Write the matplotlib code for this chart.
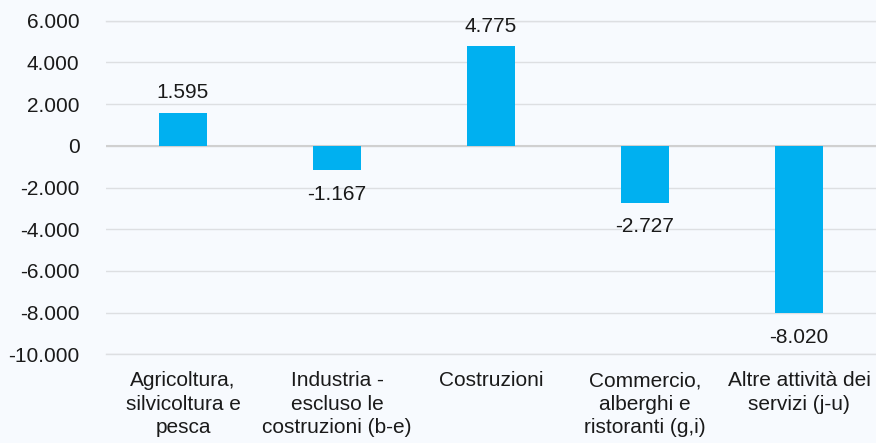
import matplotlib.pyplot as plt
import numpy as np

plt.rcParams['font.family'] = ['Liberation Sans', 'DejaVu Sans']

categories = ['Agricoltura,\nsilvicoltura e\npesca',
              'Industria -\nescluso le\ncostruzioni (b-e)',
              'Costruzioni',
              'Commercio,\nalberghi e\nristoranti (g,i)',
              'Altre attività dei\nservizi (j-u)']
values = [1595, -1167, 4775, -2727, -8020]
y_ticks = [-10000, -8000, -6000, -4000, -2000, 0, 2000, 4000, 6000]


def it_fmt(v):
    # Italian thousands separator
    return f"{v:,.0f}".replace(',', '.')


bg = '#F7FAFE'
fs = 15
fig = plt.figure(figsize=(8.76, 4.43), dpi=100, facecolor=bg)
ax = fig.add_axes([0.121, 0.2, 0.879, 0.7533], facecolor=bg)

x = np.arange(len(categories))
ax.bar(x, values, width=0.31, color='#00B0F0', zorder=3)

for xi, v in zip(x, values):
    off = 7.5 if v >= 0 else -10.5
    ax.annotate(it_fmt(v), (xi, v), xytext=(0, off), textcoords='offset points',
                ha='center', va='bottom' if v >= 0 else 'top',
                fontsize=fs, color='#1a1a1a')

ax.set_xlim(-0.5, len(categories) - 0.5)
ax.set_ylim(-10000, 6000)
ax.set_yticks(y_ticks)
ax.set_yticklabels([it_fmt(t) for t in y_ticks])
ax.set_xticks(x)
ax.set_xticklabels(categories, fontsize=fs, color='#1a1a1a', linespacing=1.3)
ax.tick_params(axis='y', labelsize=fs, labelcolor='#1a1a1a', length=0, pad=19)
ax.tick_params(axis='x', length=0, pad=12)

ax.grid(axis='y', color='#DDDFE2', linewidth=1, zorder=0)
# edge gridlines would be half clipped, draw them unclipped
for yl in (y_ticks[0], y_ticks[-1]):
    ax.axhline(yl, color='#DDDFE2', linewidth=1, zorder=0, clip_on=False)
ax.axhline(0, color='#D0D0D0', linewidth=1.5, zorder=2)
for s in ax.spines.values():
    s.set_visible(False)

fig.savefig('out.png', dpi=100, facecolor=bg)
